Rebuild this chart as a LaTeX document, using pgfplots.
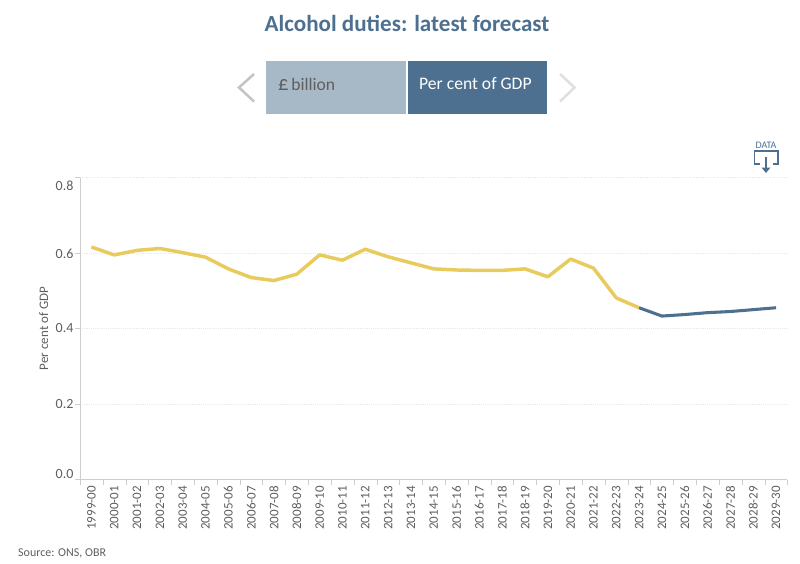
\documentclass[border=0pt]{standalone}
\usepackage{fontspec}
\setmainfont{Carlito}
\usepackage{pgfplots}
\pgfplotsset{compat=1.18}
\definecolor{obryellow}{HTML}{E8CB5C}
\definecolor{obrblue}{HTML}{4E7090}
\definecolor{obrlight}{HTML}{A7B8C6}
\definecolor{obrtext}{HTML}{5F5F5F}
\definecolor{obraxis}{HTML}{CDCDCD}
\begin{document}
% picture coordinates are reference pixels, y going down
\begin{tikzpicture}[x=0.75pt,y=-0.75pt]
\fill[white] (0,0) rectangle (800,564);
\coordinate (origin) at (80,479.5);

% title and buttons
\node[text=obrblue,font=\bfseries\fontsize{17.3pt}{20pt}\selectfont] at (407,23) {Alcohol duties: latest forecast};
\fill[obrlight] (266,61) rectangle (405.5,114);
\fill[obrblue] (407.5,61) rectangle (547,114);
\node[anchor=west,text=obrtext,font=\fontsize{13.2pt}{14pt}\selectfont] at (273.5,84) {{\fontsize{15.5pt}{14pt}\selectfont £}\hspace{-1pt} billion};
\node[anchor=west,text=white,font=\fontsize{13.2pt}{14pt}\selectfont] at (414.5,84) {Per cent of GDP};
\draw[line width=1.9pt,color=black!23] (254,74) -- (239,87.5) -- (254,101.5);
\draw[line width=1.9pt,color=black!12] (560,74) -- (574.5,87.5) -- (560,101.5);

% data icon
\node[text=obrblue,font=\fontsize{7.5pt}{8pt}\selectfont] at (766,145.7) {DATA};
\draw[obrblue,line width=1pt] (760,164) -- (754.5,164) -- (754.5,151) -- (778,151) -- (778,164) -- (772.5,164);
\draw[obrblue,line width=1pt] (766,157) -- (766,168);
\fill[obrblue] (761.5,167.5) -- (770.5,167.5) -- (766,173) -- cycle;

\begin{axis}[
    at={(origin)},
    anchor=south west,
    scale only axis,
    width=530.6pt,
    height=226.5pt,
    xmin=-0.5, xmax=30.5,
    ymin=0, ymax=0.8,
    axis x line*=bottom,
    axis y line*=left,
    axis line style={obraxis,-},
    tick align=outside,
    major tick length=3.75pt,
    minor tick length=3.75pt,
    tick style={obraxis},
    major x tick style={draw=none},
    xtick={0,...,30},
    minor xtick={-0.5,0.5,...,30.5},
    xticklabels={1999-00,2000-01,2001-02,2002-03,2003-04,2004-05,2005-06,2006-07,2007-08,2008-09,2009-10,2010-11,2011-12,2012-13,2013-14,2014-15,2015-16,2016-17,2017-18,2018-19,2019-20,2020-21,2021-22,2022-23,2023-24,2024-25,2025-26,2026-27,2027-28,2028-29,2029-30},
    x tick label style={rotate=90,anchor=east,text=obrtext,font=\fontsize{9.75pt}{10pt}\selectfont,inner xsep=1pt},
    ytick={0,0.2,0.4,0.6,0.8},
    yticklabels={\raisebox{4pt}[7pt][0pt]{0.0},0.2,0.4,\raisebox{-0.8pt}[7pt][0pt]{0.6},\raisebox{-6pt}[7pt][0pt]{0.8}},
    y tick label style={text=obrtext,font=\fontsize{10.5pt}{11pt}\selectfont,inner xsep=1pt},
    ymajorgrids,
    grid style={densely dotted,color=black!9,line width=0.5pt},
    ylabel={Per cent of GDP},
    ylabel shift=1pt,
    ylabel style={text=obrtext,font=\fontsize{9.75pt}{10pt}\selectfont},
    clip=false,
]
% outturn
\addplot[obryellow,line width=2.6pt,line join=round] coordinates {
    (0,0.616) (1,0.595) (2,0.607) (3,0.612) (4,0.601) (5,0.589) (6,0.558)
    (7,0.535) (8,0.527) (9,0.544) (10,0.595) (11,0.581) (12,0.610) (13,0.590)
    (14,0.574) (15,0.558) (16,0.555) (17,0.554) (18,0.554) (19,0.558) (20,0.537)
    (21,0.584) (22,0.560) (23,0.481) (24,0.455)
};
% forecast
\addplot[obrblue,line width=2.3pt,line join=round] coordinates {
    (24,0.455) (25,0.433) (26,0.437) (27,0.442) (28,0.445) (29,0.450) (30,0.455)
};
\end{axis}

\node[anchor=west,text=obrtext,font=\fontsize{9pt}{10pt}\selectfont] at (13.5,553) {Source: ONS, OBR};
\end{tikzpicture}
\end{document}
